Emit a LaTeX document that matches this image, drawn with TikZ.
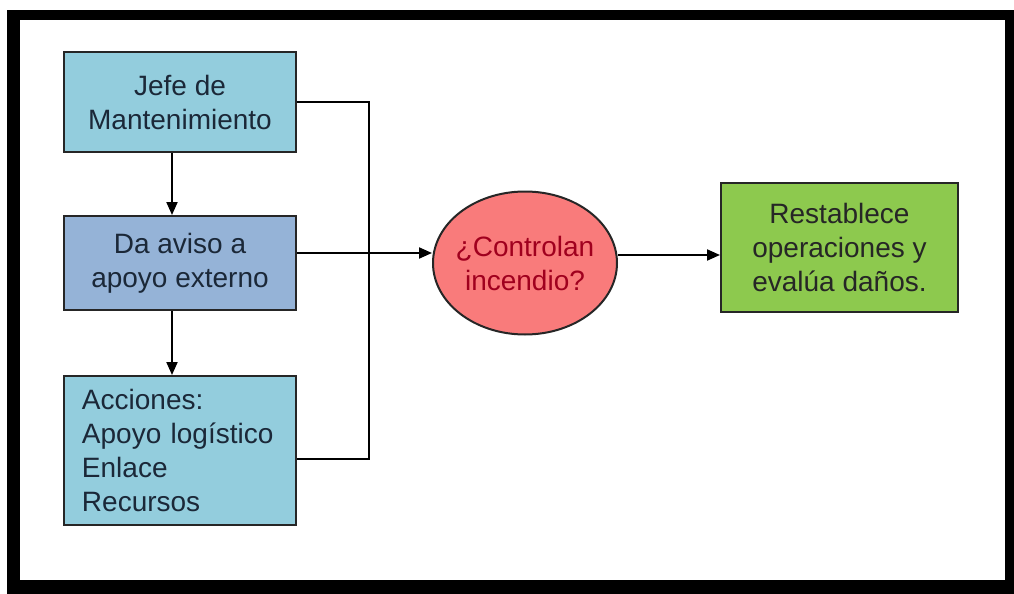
\documentclass[tikz,border=0pt]{standalone}
\usepackage{fontspec}
\setmainfont{Liberation Sans}
\usetikzlibrary{arrows.meta}
\usetikzlibrary{shapes.geometric}
\definecolor{cyanbox}{HTML}{93CDDD}
\definecolor{bluebox}{HTML}{95B3D7}
\definecolor{greenbox}{HTML}{8DC94E}
\definecolor{redell}{HTML}{F97B7B}
\definecolor{redtext}{HTML}{A0001E}
\definecolor{boxtext}{HTML}{1B2838}
\tikzset{
proc box/.style={draw=black!85, line width=1pt, fill=#1,
    minimum width=116pt, text=boxtext, align=center, inner sep=0pt,
    font=\fontsize{14}{17}\selectfont},
flow arrow/.style={-{Triangle[length=6.5pt,width=5.5pt]}, line width=1pt},
}

\begin{document}
\begin{tikzpicture}[x=0.5pt,y=-0.5pt]
    \useasboundingbox (0,0) rectangle (1014,594);
    \fill[white] (0,0) rectangle (1014,594);
    \fill[black] (7,10) rectangle (1014,594);
    \fill[white] (20,20) rectangle (1005,580);
    \node[proc box=cyanbox, minimum height=50pt] (jefe) at (180,102) {Jefe de\\Mantenimiento};
    \node[proc box=bluebox, minimum height=47pt] (aviso) at (180,263) {Da aviso a\\apoyo externo};
    \node[proc box=cyanbox, minimum height=74.5pt, text width=98pt, align=left, inner xsep=9pt] (acciones) at (180,450.5) {Acciones:\\Apoyo logístico\\Enlace\\Recursos};
    \node[ellipse, draw=black!85, line width=1pt, fill=redell, minimum width=92pt, minimum height=71.5pt,
        inner xsep=-5pt, inner ysep=0pt, text=redtext, align=center, font=\fontsize{14}{17}\selectfont] (control) at (525,263) {¿Controlan\\incendio?};
    \node[proc box=greenbox, minimum width=118.5pt, minimum height=64.5pt, text=black!85] (restablece) at (839.5,247.5) {Restablece\\operaciones y\\evalúa daños.};
    \draw[flow arrow] ([xshift=-4pt]jefe.south) -- ([xshift=-4pt]aviso.north);
    \draw[flow arrow] ([xshift=-4pt]aviso.south) -- ([xshift=-4pt]acciones.north);
    \draw[line width=1pt] (jefe.east) -- ++(36pt,0) |- ([yshift=-4pt]acciones.east);
    \draw[flow arrow] ([yshift=5pt]aviso.east) -- ([yshift=5pt]aviso.east -| control.west);
    \draw[flow arrow] ([yshift=4pt]control.east) -- ([yshift=4pt]control.east -| restablece.west);
\end{tikzpicture}
\end{document}
